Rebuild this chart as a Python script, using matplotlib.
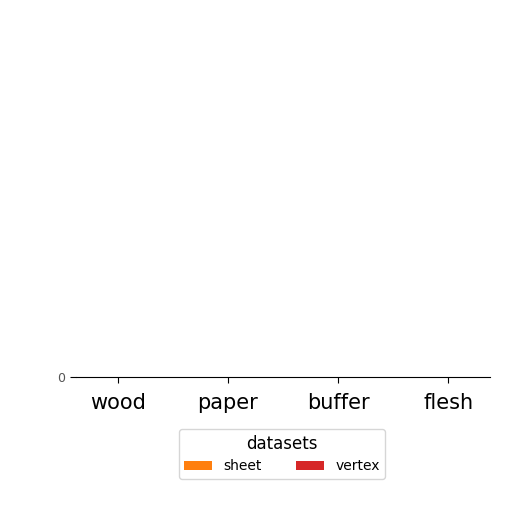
import matplotlib
matplotlib.use("Agg")
import matplotlib.pyplot as plt
import numpy as np

categories = ["wood", "paper", "buffer", "flesh"]
series_names = ["sheet", "vertex"]
sheet = [0, 0, 0, 0]
vertex = [0, 0, 0, 0]
colors = ["#ff7f0e", "#d62728"]

fig = plt.figure(figsize=(5.12, 5.12), dpi=100)
ax = fig.add_axes([76/512, (512-378)/512, 414/512, 0.002])

x = np.arange(len(categories))
w = 0.35
ax.bar(x - w/2, sheet, w, color=colors[0], label=series_names[0])
ax.bar(x + w/2, vertex, w, color=colors[1], label=series_names[1])

ax.set_xticks(x)
ax.set_xticklabels(categories)
ax.set_yticks([0])
ax.set_yticklabels(["0"])
ax.set_xlim(-0.38, 3.38)
ax.set_ylim(-0.01, 0.01)
for s in ["top", "right", "left"]:
    ax.spines[s].set_visible(False)
ax.spines["bottom"].set_position(("data", 0))
ax.tick_params(axis="x", length=4, pad=7, labelsize=15)
ax.tick_params(axis="y", length=4, labelsize=9, labelcolor="#555555")

leg = fig.legend(loc="center", bbox_to_anchor=(282/512, 1 - 454/512), ncol=2,
                 title="datasets", title_fontsize=12, fontsize=10,
                 frameon=True, columnspacing=2.5)
fig.savefig("out.png", dpi=100)
